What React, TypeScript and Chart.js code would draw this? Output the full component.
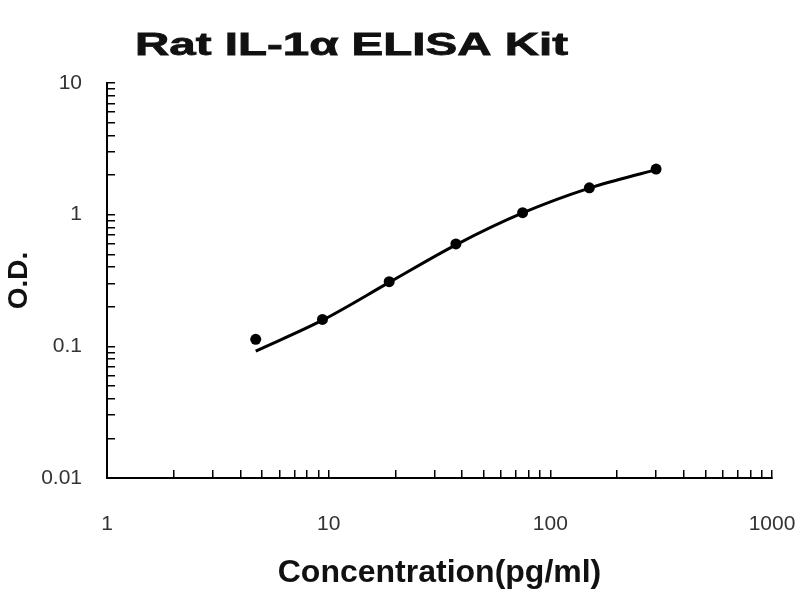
import { useEffect, useRef } from 'react';
import { Chart, registerables } from 'chart.js';

Chart.register(...registerables);

const concentrations = [4.6875, 9.375, 18.75, 37.5, 75, 150, 300];
const odValues = [0.113, 0.16, 0.31, 0.6, 1.035, 1.6, 2.22];
const fitValues = [0.092, 0.158, 0.306, 0.59, 1.03, 1.59, 2.2];
const xTickLabels = ['1', '10', '100', '1000'];
const yTickLabels = ['0.01', '0.1', '1', '10'];
const titleText = 'Rat IL-1α ELISA Kit';
const xTitle = 'Concentration(pg/ml)';
const yTitle = 'O.D.';

const FAMILY = '"Liberation Sans", Arial, Helvetica, sans-serif';

function decadeTicks(labels: string[]) {
  const decades = labels.map(Number);
  const out: { value: number; major: boolean }[] = [];
  decades.forEach((d, i) => {
    out.push({ value: d, major: true });
    if (i < decades.length - 1) {
      for (let k = 2; k <= 9; k++) out.push({ value: Number((k * d).toPrecision(6)), major: false });
    }
  });
  return out;
}

const stretchedTitle = {
  id: 'stretchedTitle',
  afterDraw(chart: any, _args: any, opts: any) {
    const ctx = chart.ctx;
    ctx.save();
    ctx.font = `bold ${opts.size}px ${FAMILY}`;
    const w = ctx.measureText(opts.text).width;
    const sx = opts.width / w;
    ctx.translate(opts.x, opts.y);
    ctx.scale(sx, 1);
    ctx.textAlign = 'center';
    ctx.textBaseline = 'alphabetic';
    ctx.fillStyle = opts.color;
    ctx.strokeStyle = opts.color;
    ctx.lineWidth = 0.8;
    ctx.fillText(opts.text, 0, 0);
    ctx.strokeText(opts.text, 0, 0);
    ctx.restore();
  },
};

export default function App() {
  const ref = useRef<HTMLCanvasElement | null>(null);

  useEffect(() => {
    document.body.style.margin = '0';
    const canvas = ref.current;
    if (!canvas) return;
    Chart.defaults.font.family = FAMILY;
    const chart = new Chart(canvas, {
      type: 'scatter',
      data: {
        datasets: [
          {
            label: 'fit',
            data: concentrations.map((x, i) => ({ x, y: fitValues[i] })),
            showLine: true,
            borderColor: '#000',
            borderWidth: 3,
            pointRadius: 0,
            cubicInterpolationMode: 'monotone',
          } as any,
          {
            label: 'standards',
            data: concentrations.map((x, i) => ({ x, y: odValues[i] })),
            showLine: false,
            pointRadius: 5.5,
            pointBackgroundColor: '#000',
            pointBorderColor: '#000',
            pointBorderWidth: 0,
          },
        ],
      },
      options: {
        animation: false,
        responsive: false,
        maintainAspectRatio: false,
        layout: { padding: { top: 83, right: 28, left: 0, bottom: 0 } },
        plugins: {
          legend: { display: false },
          tooltip: { enabled: false },
          stretchedTitle: { text: titleText, x: 351.5, y: 55, size: 32, width: 433, color: '#111' },
        } as any,
        scales: {
          x: {
            type: 'logarithmic',
            min: 1,
            max: 1000,
            afterBuildTicks: (s: any) => {
              s.ticks = decadeTicks(xTickLabels);
            },
            afterFit: (s: any) => {
              s.height = 122;
              s.paddingLeft = 0;
              s.paddingRight = 0;
            },
            border: { display: true, color: '#000', width: 2 },
            grid: { display: true, drawOnChartArea: false, drawTicks: true, tickLength: -8, color: '#000', lineWidth: 1.5 },
            ticks: {
              autoSkip: false,
              maxRotation: 0,
              padding: 42,
              color: '#333',
              font: { size: 21, family: FAMILY },
              callback: (v: any) => (xTickLabels.includes(String(v)) ? String(v) : ''),
            },
            title: {
              display: true,
              text: xTitle,
              color: '#111',
              font: { size: 32, weight: 'bold', family: FAMILY },
              padding: { top: 0, bottom: 8 },
            },
          },
          y: {
            type: 'logarithmic',
            min: 0.01,
            max: 10,
            afterBuildTicks: (s: any) => {
              s.ticks = decadeTicks(yTickLabels);
            },
            afterFit: (s: any) => {
              s.width = 107;
              s.paddingTop = 0;
              s.paddingBottom = 0;
            },
            border: { display: true, color: '#000', width: 2 },
            grid: { display: true, drawOnChartArea: false, drawTicks: true, tickLength: -8, color: '#000', lineWidth: 1.5 },
            ticks: {
              autoSkip: false,
              padding: 33,
              color: '#333',
              font: { size: 21, family: FAMILY },
              callback: (v: any) => (yTickLabels.includes(String(v)) ? String(v) : ''),
            },
            title: {
              display: true,
              text: yTitle,
              color: '#111',
              font: { size: 28, weight: 'bold', family: FAMILY },
              padding: { top: 2, bottom: 0 },
            },
          },
        } as any,
      },
      plugins: [stretchedTitle as any],
    });
    return () => chart.destroy();
  }, []);

  return (
    <div style={{ position: 'absolute', left: 0, top: 0, width: 800, height: 600, background: '#fff' }}>
      <canvas ref={ref} width={800} height={600} style={{ width: 800, height: 600, display: 'block' }} />
    </div>
  );
}
